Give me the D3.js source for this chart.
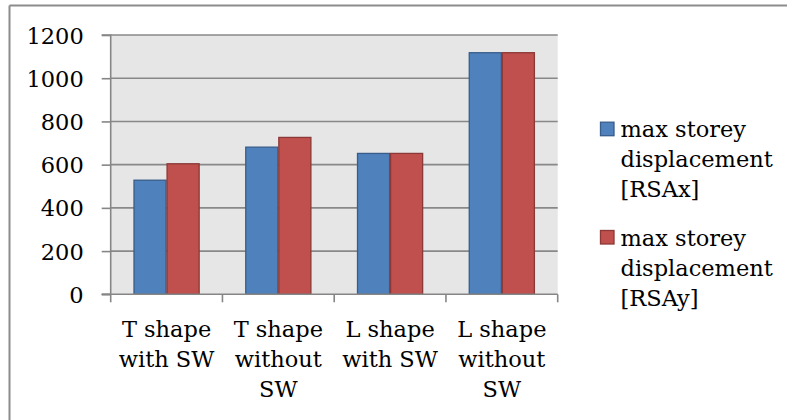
<!DOCTYPE html>
<html>
<head>
<meta charset="utf-8">
<script src="https://cdn.jsdelivr.net/npm/d3@7"></script>
<style>
  html, body { margin: 0; padding: 0; background: #fff; }
  svg { display: block; }
  text { font-family: "DejaVu Serif", serif; fill: #000; }
</style>
</head>
<body>
<svg id="chart" width="787" height="420"></svg>
<script>
const categories = [
  ["T shape", "with SW"],
  ["T shape", "without", "SW"],
  ["L shape", "with SW"],
  ["L shape", "without", "SW"]
];
const seriesNames = [
  ["max storey", "displacement", "[RSAx]"],
  ["max storey", "displacement", "[RSAy]"]
];
const rsaX = [528, 681, 652, 1118];
const rsaY = [604, 726, 652, 1118];
const yTicks = [0, 200, 400, 600, 800, 1000, 1200];

(function () {
const fills = ["#4f81bd", "#c0504d"];
const strokes = ["#385d8a", "#8c3836"];
const series = [rsaX, rsaY];

const svg = d3.select("#chart");
const fontSize = 22.5;

// outer chart border (top and left visible)
svg.append("line").attr("x1", 9.5).attr("x2", 787).attr("y1", 5.5).attr("y2", 5.5)
  .attr("stroke", "#8c8c8c").attr("stroke-width", 2);
svg.append("line").attr("x1", 9.5).attr("x2", 9.5).attr("y1", 5.5).attr("y2", 420)
  .attr("stroke", "#8c8c8c").attr("stroke-width", 2);

const pLeft = 110.7, pRight = 557.7, pTop = 35, pBottom = 294.3;

const x0 = d3.scaleBand().domain(d3.range(categories.length)).range([pLeft, pRight]).padding(0);
const x1 = d3.scaleBand().domain(d3.range(series.length)).range([0, x0.bandwidth()])
  .paddingInner(0).paddingOuter(0.69);
const y = d3.scaleLinear().domain([0, 1200]).range([pBottom, pTop]);

// plot background
svg.append("rect").attr("x", pLeft).attr("y", pTop).attr("width", pRight - pLeft).attr("height", pBottom - pTop)
  .attr("fill", "#e6e6e6");

// gridlines
svg.append("g").selectAll("line").data(yTicks.filter(d => d > 0)).join("line")
  .attr("x1", pLeft).attr("x2", pRight)
  .attr("y1", d => y(d)).attr("y2", d => y(d))
  .attr("stroke", "#888888").attr("stroke-width", 1.6);

// bars
const groups = svg.append("g").selectAll("g").data(categories).join("g")
  .attr("transform", (d, i) => `translate(${x0(i)},0)`);
groups.each(function(c, i) {
  d3.select(this).selectAll("rect").data(series.map((s, k) => ({k, v: s[i]}))).join("rect")
    .attr("x", d => x1(d.k) + 0.5)
    .attr("width", x1.bandwidth() - 1)
    .attr("y", d => y(d.v))
    .attr("height", d => y(0) - y(d.v))
    .attr("fill", d => fills[d.k])
    .attr("stroke", d => strokes[d.k])
    .attr("stroke-width", 1.3);
});

// y axis
const yAxis = d3.axisLeft(y).tickValues(yTicks).tickSize(9).tickPadding(18).tickFormat(d3.format("d"));
const ya = svg.append("g").attr("transform", `translate(${pLeft},0)`).call(yAxis);
ya.select(".domain").attr("stroke", "#868686").attr("stroke-width", 1.6).attr("d", `M-9,${pTop}H0V${pBottom}H-9`);
ya.selectAll(".tick line").attr("stroke", "#868686").attr("stroke-width", 1.6);
ya.selectAll(".tick text").attr("font-family", "DejaVu Serif").attr("font-size", fontSize).attr("fill", "#000")
  .attr("dy", "0.36em");

// x axis line and ticks
const xg = svg.append("g");
xg.append("line").attr("x1", pLeft - 9).attr("x2", pRight).attr("y1", pBottom).attr("y2", pBottom)
  .attr("stroke", "#868686").attr("stroke-width", 1.6);
const xTickPos = d3.range(categories.length + 1).map(i => i < categories.length ? x0(i) : pRight);
xg.selectAll("line.t").data(xTickPos).join("line").attr("class", "t")
  .attr("x1", d => d).attr("x2", d => d).attr("y1", pBottom).attr("y2", pBottom + 8)
  .attr("stroke", "#868686").attr("stroke-width", 1.6);

// category labels
const lineH = 29.7;
categories.forEach((lines, i) => {
  const cx = x0(i) + x0.bandwidth() / 2;
  const t = svg.append("text").attr("text-anchor", "middle").attr("font-size", fontSize);
  lines.forEach((ln, j) => {
    t.append("tspan").attr("x", cx).attr("y", 337.3 + j * lineH).text(ln);
  });
});

// legend
const legendY = [121.7, 230];
seriesNames.forEach((lines, k) => {
  const g = svg.append("g");
  g.append("rect").attr("x", 600.5).attr("y", legendY[k] + 0.5).attr("width", 13.5).attr("height", 13.5)
    .attr("fill", fills[k]).attr("stroke", strokes[k]).attr("stroke-width", 1.3);
  const t = g.append("text").attr("font-size", fontSize);
  lines.forEach((ln, j) => {
    t.append("tspan").attr("x", 620.5).attr("y", legendY[k] + 15.5 + j * 30).text(ln);
  });
});
})();
</script>
</body>
</html>
